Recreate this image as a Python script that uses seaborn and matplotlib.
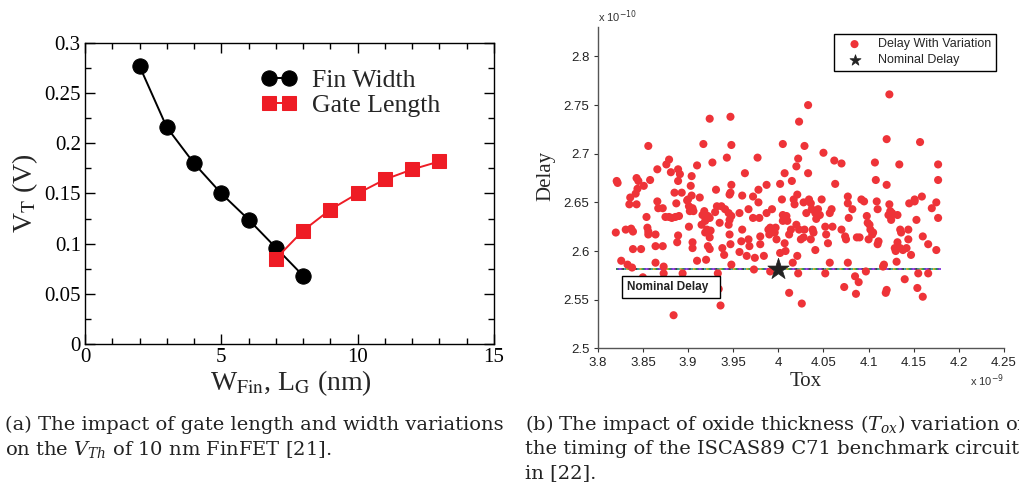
import matplotlib
matplotlib.use("Agg")
import matplotlib.pyplot as plt
from matplotlib.ticker import MultipleLocator, FuncFormatter
import seaborn as sns

# ---------------- data ----------------
fin_width_nm = [2, 3, 4, 5, 6, 7, 8]
fin_vt = [0.277, 0.216, 0.180, 0.150, 0.124, 0.096, 0.068]
gate_length_nm = [7, 8, 9, 10, 11, 12, 13]
gate_vt = [0.085, 0.113, 0.134, 0.150, 0.164, 0.174, 0.182]

# Tox in units of 1e-9, delay in units of 1e-10
tox = [3.821, 3.822, 3.820, 3.826, 3.836, 3.835, 3.831, 3.837, 3.839, 3.833,
       3.838, 3.839, 3.843, 3.845, 3.844, 3.842, 3.843, 3.848, 3.850, 3.851,
       3.856, 3.854, 3.855, 3.856, 3.856, 3.858, 3.864, 3.864, 3.864, 3.866,
       3.866, 3.867, 3.872, 3.872, 3.873, 3.873, 3.875, 3.879, 3.882, 3.886,
       3.876, 3.879, 3.881, 3.884, 3.885, 3.887, 3.889, 3.889, 3.891, 3.889,
       3.888, 3.890, 3.893, 3.894, 3.899, 3.901, 3.902, 3.901, 3.900, 3.903,
       3.904, 3.904, 3.905, 3.906, 3.905, 3.905, 3.910, 3.910, 3.913, 3.915,
       3.916, 3.918, 3.919, 3.917, 3.919, 3.921, 3.920, 3.922, 3.924, 3.924,
       3.925, 3.922, 3.924, 3.924, 3.927, 3.930, 3.931, 3.932, 3.933, 3.934,
       3.936, 3.935, 3.937, 3.938, 3.940, 3.941, 3.943, 3.945, 3.946, 3.947,
       3.948, 3.945, 3.946, 3.946, 3.948, 3.947, 3.948, 3.948, 3.947, 3.957,
       3.957, 3.960, 3.960, 3.959, 3.963, 3.965, 3.967, 3.967, 3.968, 3.972,
       3.972, 3.973, 3.974, 3.977, 3.978, 3.978, 3.979, 3.980, 3.980, 3.984,
       3.987, 3.987, 3.989, 3.990, 3.991, 3.993, 3.994, 3.996, 3.998, 3.997,
       3.991, 4.002, 4.004, 4.005, 4.007, 4.002, 4.005, 4.007, 4.008, 4.005,
       4.009, 4.010, 4.012, 4.014, 4.012, 4.015, 4.016, 4.017, 4.018, 4.020,
       4.021, 4.020, 4.022, 4.023, 4.021, 4.022, 4.026, 4.023, 4.025, 4.028,
       4.029, 4.031, 4.028, 4.029, 4.033, 4.033, 4.034, 4.036, 4.037, 4.038,
       4.036, 4.039, 4.041, 4.041, 4.042, 4.044, 4.046, 4.048, 4.050, 4.052,
       4.052, 4.053, 4.055, 4.057, 4.057, 4.059, 4.060, 4.062, 4.063, 4.070,
       4.070, 4.073, 4.074, 4.075, 4.077, 4.077, 4.078, 4.077, 4.082, 4.085,
       4.089, 4.087, 4.090, 4.092, 4.095, 4.098, 4.099, 4.100, 4.097, 4.101,
       4.102, 4.104, 4.105, 4.108, 4.107, 4.109, 4.110, 4.111, 4.110, 4.116,
       4.117, 4.120, 4.119, 4.120, 4.120, 4.122, 4.123, 4.125, 4.126, 4.123,
       4.124, 4.125, 4.130, 4.131, 4.132, 4.129, 4.132, 4.140, 4.135, 4.138,
       4.142, 4.134, 4.135, 4.136, 4.144, 4.145, 4.147, 4.144, 4.151, 4.154,
       4.155, 4.157, 4.159, 4.160, 4.160, 4.151, 4.153, 4.166, 4.166, 4.170,
       4.175, 4.175, 4.177, 4.177, 4.177, 4.086]
delay = [2.672, 2.670, 2.619, 2.590, 2.655, 2.648, 2.622, 2.623, 2.620, 2.586,
         2.583, 2.602, 2.675, 2.672, 2.664, 2.659, 2.648, 2.602, 2.573, 2.667,
         2.708, 2.635, 2.624, 2.620, 2.617, 2.673, 2.588, 2.605, 2.617, 2.684,
         2.651, 2.644, 2.644, 2.605, 2.584, 2.577, 2.635, 2.635, 2.634, 2.635,
         2.689, 2.694, 2.681, 2.534, 2.660, 2.649, 2.684, 2.672, 2.679, 2.616,
         2.609, 2.636, 2.660, 2.577, 2.652, 2.646, 2.641, 2.625, 2.653, 2.667,
         2.677, 2.657, 2.644, 2.641, 2.609, 2.603, 2.590, 2.688, 2.655, 2.627,
         2.637, 2.641, 2.631, 2.710, 2.619, 2.622, 2.591, 2.636, 2.634, 2.614,
         2.621, 2.605, 2.602, 2.736, 2.691, 2.640, 2.663, 2.646, 2.577, 2.561,
         2.544, 2.629, 2.646, 2.603, 2.596, 2.643, 2.696, 2.639, 2.658, 2.660,
         2.668, 2.627, 2.617, 2.632, 2.636, 2.738, 2.709, 2.586, 2.607, 2.639,
         2.599, 2.657, 2.622, 2.610, 2.680, 2.595, 2.643, 2.612, 2.605, 2.656,
         2.634, 2.581, 2.593, 2.696, 2.663, 2.650, 2.634, 2.615, 2.607, 2.595,
         2.668, 2.639, 2.622, 2.617, 2.624, 2.643, 2.622, 2.619, 2.612, 2.624,
         2.579, 2.669, 2.653, 2.710, 2.680, 2.598, 2.631, 2.608, 2.600, 2.637,
         2.636, 2.631, 2.617, 2.622, 2.557, 2.672, 2.588, 2.653, 2.648, 2.627,
         2.658, 2.687, 2.695, 2.733, 2.595, 2.577, 2.546, 2.622, 2.612, 2.614,
         2.622, 2.639, 2.650, 2.708, 2.750, 2.680, 2.653, 2.649, 2.643, 2.622,
         2.612, 2.619, 2.639, 2.601, 2.633, 2.643, 2.637, 2.653, 2.701, 2.577,
         2.625, 2.617, 2.608, 2.588, 2.639, 2.643, 2.625, 2.693, 2.669, 2.622,
         2.690, 2.563, 2.615, 2.612, 2.656, 2.649, 2.634, 2.588, 2.643, 2.574,
         2.568, 2.614, 2.614, 2.653, 2.651, 2.636, 2.629, 2.612, 2.579, 2.627,
         2.622, 2.617, 2.619, 2.673, 2.691, 2.651, 2.643, 2.610, 2.607, 2.584,
         2.586, 2.560, 2.557, 2.668, 2.715, 2.637, 2.648, 2.636, 2.639, 2.761,
         2.641, 2.632, 2.600, 2.589, 2.637, 2.603, 2.609, 2.571, 2.603, 2.601,
         2.603, 2.689, 2.622, 2.619, 2.622, 2.649, 2.596, 2.612, 2.653, 2.562,
         2.577, 2.712, 2.656, 2.615, 2.553, 2.651, 2.632, 2.607, 2.577, 2.644,
         2.650, 2.601, 2.689, 2.673, 2.634, 2.556]
nominal_tox = [4.0]
nominal_delay = [2.582]
nominal_line_tox = [3.82, 4.18]

x1_ticks = [0, 5, 10, 15]
y1_ticks = [0, 0.05, 0.1, 0.15, 0.2, 0.25, 0.3]
x2_ticks = [3.8, 3.85, 3.9, 3.95, 4.0, 4.05, 4.1, 4.15, 4.2, 4.25]
y2_ticks = [2.5, 2.55, 2.6, 2.65, 2.7, 2.75, 2.8]

caption_a = ["(a) The impact of gate length and width variations",
             r"on the $V_{Th}$ of 10 nm FinFET [21]."]
caption_b = [r"(b) The impact of oxide thickness ($T_{ox}$) variation on",
             "the timing of the ISCAS89 C71 benchmark circuit",
             "in [22]."]

# ---------------- style ----------------
sns.set_style("white")
plt.rcParams["font.family"] = ["Liberation Serif", "DejaVu Serif"]

fig = plt.figure(figsize=(10.19, 4.96), dpi=100)

# ---------------- left panel ----------------
ax1 = fig.add_axes([0.0834, 0.3065, 0.4014, 0.6068])
sns.lineplot(x=fin_width_nm, y=fin_vt, ax=ax1, color="black", lw=1.4,
             marker="o", markersize=11, markeredgecolor="black",
             markerfacecolor="black", label="Fin Width", zorder=3)
sns.lineplot(x=gate_length_nm, y=gate_vt, ax=ax1, color="#ee1c25", lw=1.4,
             marker="s", markersize=9.5, markeredgecolor="#ee1c25",
             markerfacecolor="#ee1c25", label="Gate Length", zorder=4)
ax1.set_xlim(0, 15)
ax1.set_ylim(0, 0.3)
ax1.set_xticks(x1_ticks)
ax1.set_yticks(y1_ticks)
ax1.xaxis.set_minor_locator(MultipleLocator(1))
ax1.yaxis.set_minor_locator(MultipleLocator(0.025))
ax1.xaxis.set_major_formatter(FuncFormatter(lambda v, p: "%g" % v))
ax1.yaxis.set_major_formatter(FuncFormatter(lambda v, p: "%g" % v))
ax1.tick_params(which="both", direction="in", top=True, right=True,
                bottom=True, left=True, width=1.0, colors="black")
ax1.tick_params(which="major", length=7)
ax1.tick_params(which="minor", length=4)
ax1.tick_params(axis="y", labelsize=15, pad=3)
ax1.tick_params(axis="x", labelsize=15, pad=3)
for s in ax1.spines.values():
    s.set_color("black")
    s.set_linewidth(1.0)
ax1.set_xlabel(r"W$_{\mathrm{Fin}}$, L$_{\mathrm{G}}$ (nm)", fontsize=20,
               math_fontfamily="stix")
ax1.set_ylabel(r"V$_{\mathrm{T}}$ (V)", fontsize=20, math_fontfamily="stix")
ax1.xaxis.set_label_coords(0.503, -0.082)
ax1.yaxis.set_label_coords(-0.11, 0.5)
leg1 = ax1.legend(loc="upper left", bbox_to_anchor=(0.43, 0.912), frameon=False,
                  fontsize=18.5, numpoints=2, handlelength=1.4, handletextpad=0.6,
                  labelspacing=0.05, borderpad=0, borderaxespad=0)

# ---------------- right panel ----------------
ax2 = fig.add_axes([0.5866, 0.2978, 0.3987, 0.6472])
sns.scatterplot(x=tox, y=delay, ax=ax2, s=34, color="#ee3338", edgecolor="none",
                label="Delay With Variation", zorder=3)
line_colors = ["#1f3f8f", "#2a9d3a", "#c8a81e", "#20a0a0", "#333333", "#8a2be2"]
for i, c in enumerate(line_colors):
    ax2.plot(nominal_line_tox, nominal_delay * 2, color=c, lw=1.2,
             linestyle=(i * 1.3, (2.0, 6.0)), zorder=2)
sns.scatterplot(x=nominal_tox, y=nominal_delay, ax=ax2, marker="*", s=260,
                color="#222222", edgecolor="#222222", linewidth=0.5,
                label="Nominal Delay", zorder=5)
ax2.set_xlim(3.8, 4.25)
ax2.set_ylim(2.5, 2.83)
ax2.set_xticks(x2_ticks)
ax2.set_yticks(y2_ticks)
ax2.xaxis.set_major_formatter(FuncFormatter(lambda v, p: "%g" % round(v, 3)))
ax2.yaxis.set_major_formatter(FuncFormatter(lambda v, p: "%g" % round(v, 3)))
ax2.tick_params(direction="out", length=3, width=0.8, colors="#333333",
                labelsize=9.5, pad=3, bottom=True, left=True)
for lab in ax2.get_xticklabels() + ax2.get_yticklabels():
    lab.set_fontfamily("Liberation Sans")
    lab.set_color("#222222")
for side in ["top", "right"]:
    ax2.spines[side].set_visible(False)
for side in ["left", "bottom"]:
    ax2.spines[side].set_color("#555555")
    ax2.spines[side].set_linewidth(1.0)
ax2.set_xlabel("Tox", fontsize=15)
ax2.set_ylabel("Delay", fontsize=15)
ax2.xaxis.set_label_coords(0.513, -0.075)
ax2.yaxis.set_label_coords(-0.105, 0.537)
leg2 = ax2.legend(loc="upper right", bbox_to_anchor=(0.98, 0.979), frameon=True,
                  fancybox=False, edgecolor="black", framealpha=1,
                  prop={"family": "Liberation Sans", "size": 9},
                  handlelength=2.6, handletextpad=0.6, borderpad=0.35,
                  labelspacing=0.3, borderaxespad=0)
leg2.get_frame().set_linewidth(1.0)
for h, sz in zip(leg2.legend_handles, [34, 70]):
    h.set_sizes([sz])
ax2.text(3.8325, 2.563, "Nominal Delay  ", ha="left", va="center",
         fontsize=8.5, fontweight="bold", family="Liberation Sans", color="#222222",
         bbox=dict(boxstyle="square,pad=0.4", fc="white", ec="black", lw=1.0), zorder=6)
fig.text(598 / 1019, 1 - 17 / 496, r"x 10$^{-10}$", fontsize=8,
         family="Liberation Sans", color="#333333", ha="left", va="center")
fig.text(1004 / 1019, 1 - 381 / 496, r"x 10$^{-9}$", fontsize=8,
         family="Liberation Sans", color="#333333", ha="right", va="center")

# ---------------- captions ----------------
cap_kw = dict(fontsize=14, family="DejaVu Serif", color="#222222",
              ha="left", va="center", math_fontfamily="dejavuserif")
for i, line in enumerate(caption_a):
    fig.text(5 / 1019, 1 - (425 + 24 * i) / 496, line, **cap_kw)
for i, line in enumerate(caption_b):
    fig.text(525 / 1019, 1 - (425 + 24 * i) / 496, line, **cap_kw)

fig.savefig("out.png", dpi=100)
